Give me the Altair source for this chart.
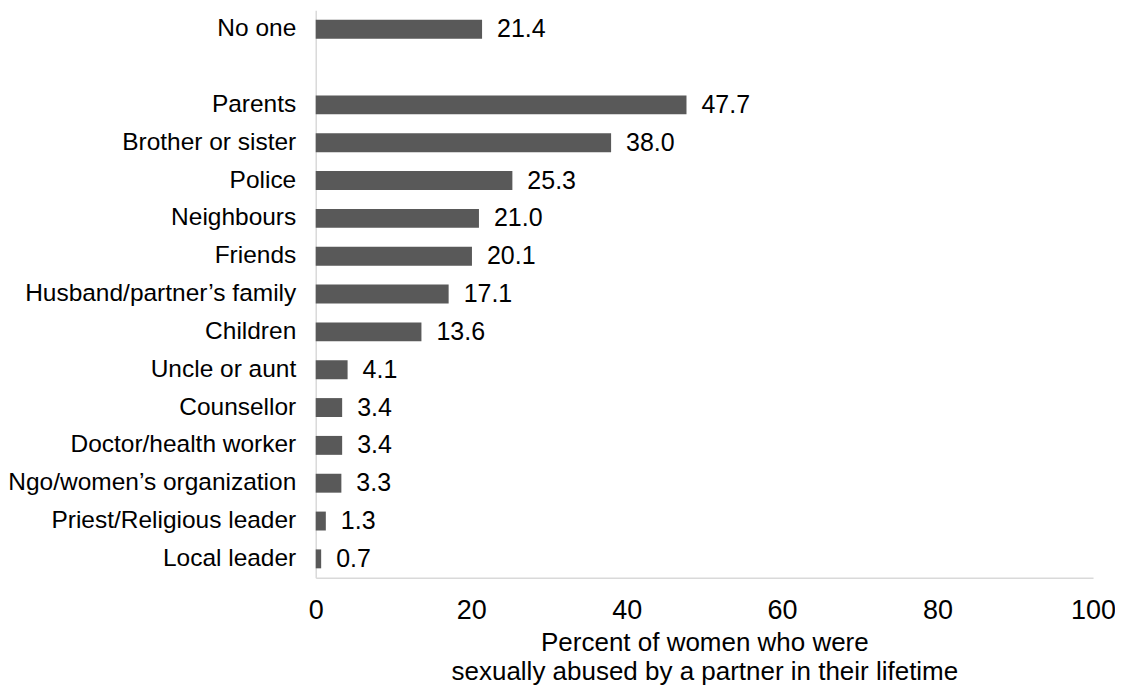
import altair as alt
import pandas as pd

categories = ["No one", "Parents", "Brother or sister", "Police", "Neighbours",
              "Friends", "Husband/partner’s family", "Children", "Uncle or aunt",
              "Counsellor", "Doctor/health worker", "Ngo/women’s organization",
              "Priest/Religious leader", "Local leader"]
values = [21.4, 47.7, 38.0, 25.3, 21.0, 20.1, 17.1, 13.6, 4.1, 3.4, 3.4, 3.3, 1.3, 0.7]
x_ticks = [0, 20, 40, 60, 80, 100]

# domain with an empty slot between "No one" and the rest
domain = [categories[0], " "] + categories[1:]

df = pd.DataFrame({"cat": categories, "val": values})

FONT = "Liberation Sans"
yscale = alt.Scale(domain=domain, paddingInner=0.5, paddingOuter=0.25)

y_enc = alt.Y("cat:N", scale=yscale,
              axis=alt.Axis(title=None, ticks=False, labelFontSize=24.5, labelFont=FONT,
                            labelColor="#000000", labelPadding=20, domainColor="#d9d9d9",
                            domainWidth=1.5, labelLimit=400))

bars = alt.Chart(df).mark_bar(color="#595959").encode(
    x=alt.X("val:Q", scale=alt.Scale(domain=[0, 100], nice=False),
            axis=alt.Axis(values=x_ticks, grid=False, ticks=False, labelFontSize=27,
                          labelFont=FONT, labelColor="#000000", labelPadding=20,
                          labelFlush=False,
                          domainColor="#d9d9d9", domainWidth=1.5,
                          title=["Percent of women who were",
                                 "sexually abused by a partner in their lifetime"],
                          titleFontSize=26, titleFont=FONT, titleFontWeight="normal",
                          titleColor="#000000", titlePadding=6, titleLineHeight=29)),
    y=y_enc,
)

text = alt.Chart(df).mark_text(align="left", baseline="middle", dx=15, fontSize=25,
                               font=FONT, color="#000000").encode(
    x="val:Q",
    y=alt.Y("cat:N", scale=yscale),
    text=alt.Text("val:Q", format=".1f"),
)

chart = (bars + text).properties(
    width=778, height=568,
    background="white",
    autosize=alt.AutoSizeParams(type="none"),
    padding={"left": 308, "top": 2, "right": 22, "bottom": 107},
).configure_view(strokeWidth=0, stroke=None)

chart.save("out.html", embed_options={"renderer": "svg", "actions": False})
